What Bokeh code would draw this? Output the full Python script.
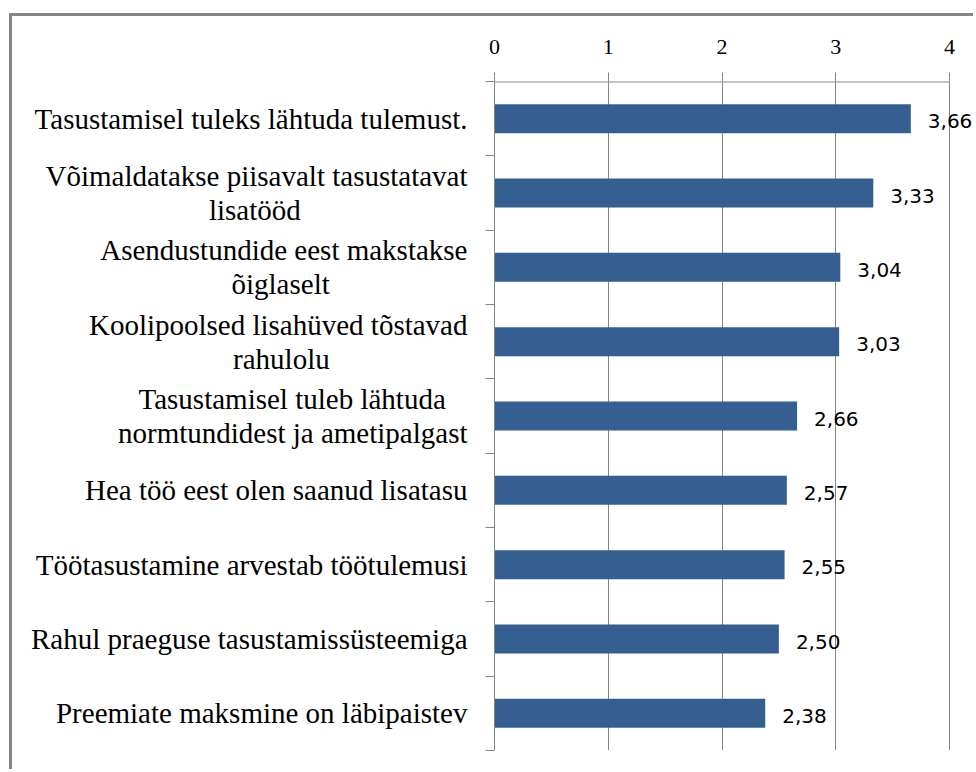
from bokeh.plotting import figure
from bokeh.models import (ColumnDataSource, LabelSet, FixedTicker, Range1d, LinearAxis)
from bokeh.core.properties import value
from bokeh.embed import file_html
from bokeh.resources import INLINE

# ---- data ----
categories = [
    "Tasustamisel tuleks lähtuda tulemust.",
    "Võimaldatakse piisavalt tasustatavat\nlisatööd",
    "Asendustundide eest makstakse\nõiglaselt",
    "Koolipoolsed lisahüved tõstavad\nrahulolu",
    "Tasustamisel tuleb lähtuda\nnormtundidest ja ametipalgast",
    "Hea töö eest olen saanud lisatasu",
    "Töötasustamine arvestab töötulemusi",
    "Rahul praeguse tasustamissüsteemiga",
    "Preemiate maksmine on läbipaistev",
]
values = [3.66, 3.33, 3.04, 3.03, 2.66, 2.57, 2.55, 2.50, 2.38]
x_ticks = [0, 1, 2, 3, 4]

# ---- styles ----
BAR = "#365F91"
GREY = "#868686"
SERIF = "Liberation Serif"
SANS = "DejaVu Sans"

W, H = 964, 756
BL, BT, BB = 482, 65, 22
FRAME_W = W - BL
PLOT_W = 455  # pixels spanned by the 0..4 scale

# approximate Liberation Serif advance widths (1/1000 em), used only to centre wrapped lines
ADV = {" ": 250, ".": 250, "a": 444, "b": 500, "c": 444, "d": 500, "e": 444, "f": 333,
       "g": 500, "h": 500, "i": 278, "j": 278, "k": 500, "l": 278, "m": 778, "n": 500,
       "o": 500, "p": 500, "q": 500, "r": 333, "s": 389, "t": 278, "u": 500, "v": 500,
       "w": 722, "x": 500, "y": 500, "z": 444, "ä": 444, "õ": 500, "ö": 500, "ü": 500,
       "A": 722, "H": 722, "K": 722, "P": 556, "R": 667, "T": 611, "V": 722}
NBSP = "\u00a0"


def centred(label):
    lines = label.split("\n")
    widths = [sum(ADV.get(ch, 500) for ch in s) for s in lines]
    mw = max(widths)
    out = []
    for s, w in zip(lines, widths):
        pad = int(round((mw - w) / 2 / ADV[" "]))
        out.append(s + NBSP * pad)
    return "\n".join(out)


n = len(categories)
ypos = [n - i - 0.5 for i in range(n)]
val_text = [f"{v:.2f}".replace(".", ",") for v in values]
bars = ColumnDataSource(dict(y=ypos, v=values, t=val_text))

x_end = x_ticks[-1] * FRAME_W / PLOT_W

p = figure(width=W, height=H, output_backend="svg", toolbar_location=None,
           x_range=Range1d(x_ticks[0], x_end), y_range=Range1d(0, n),
           x_axis_location="above",
           min_border_left=BL, min_border_right=0, min_border_top=BT, min_border_bottom=BB)
p.styles = {"margin-left": "9px", "margin-top": "13px",
            "border-left": f"3px solid {GREY}", "border-top": f"3px solid {GREY}"}

p.hbar(y="y", left=0, right="v", height=0.39, source=bars, fill_color=BAR, line_color=None)

# top axis line only across 0..4
p.segment(x0=x_ticks[0], x1=x_ticks[-1], y0=n, y1=n, line_color=GREY, line_width=2)

# top axis
p.xaxis.ticker = FixedTicker(ticks=x_ticks)
p.xaxis.major_label_text_font = SERIF
p.xaxis.major_label_text_font_size = "22px"
p.xaxis.major_label_text_color = "black"
p.xaxis.major_label_standoff = 19
p.xaxis.axis_line_color = None
p.xaxis.major_tick_line_color = GREY
p.xaxis.major_tick_out = 9
p.xaxis.major_tick_in = 0
p.xaxis.minor_tick_line_color = None

# left axis with ticks at category boundaries
p.yaxis.ticker = FixedTicker(ticks=list(range(n + 1)))
p.yaxis.major_label_overrides = {i: "" for i in range(n + 1)}
p.yaxis.major_label_standoff = 0
p.yaxis.axis_line_color = GREY
p.yaxis.major_tick_line_color = GREY
p.yaxis.major_tick_out = 9
p.yaxis.major_tick_in = 0
p.yaxis.minor_tick_line_color = None

# category labels on a second left axis with ticks at the bar centres
cat_axis = LinearAxis(ticker=FixedTicker(ticks=ypos),
                      major_label_overrides={y: centred(c) for y, c in zip(ypos, categories)})
cat_axis.axis_line_color = None
cat_axis.major_tick_line_color = None
cat_axis.minor_tick_line_color = None
cat_axis.major_tick_out = 0
cat_axis.major_tick_in = 0
cat_axis.major_label_standoff = 18
cat_axis.major_label_text_font = SERIF
cat_axis.major_label_text_font_size = "29px"
cat_axis.major_label_text_color = "black"
cat_axis.major_label_text_line_height = 1.07
p.add_layout(cat_axis, "left")

p.xgrid.grid_line_color = GREY
p.ygrid.grid_line_color = None
p.outline_line_color = None

# value labels
p.add_layout(LabelSet(x="v", y="y", text="t", x_offset=17, y_offset=-9.5, source=bars,
                      text_align="left", text_baseline="alphabetic",
                      text_font=value(SANS), text_font_size=value("20px"),
                      text_color="black"))

open("out.html", "w").write(file_html(p, INLINE))
